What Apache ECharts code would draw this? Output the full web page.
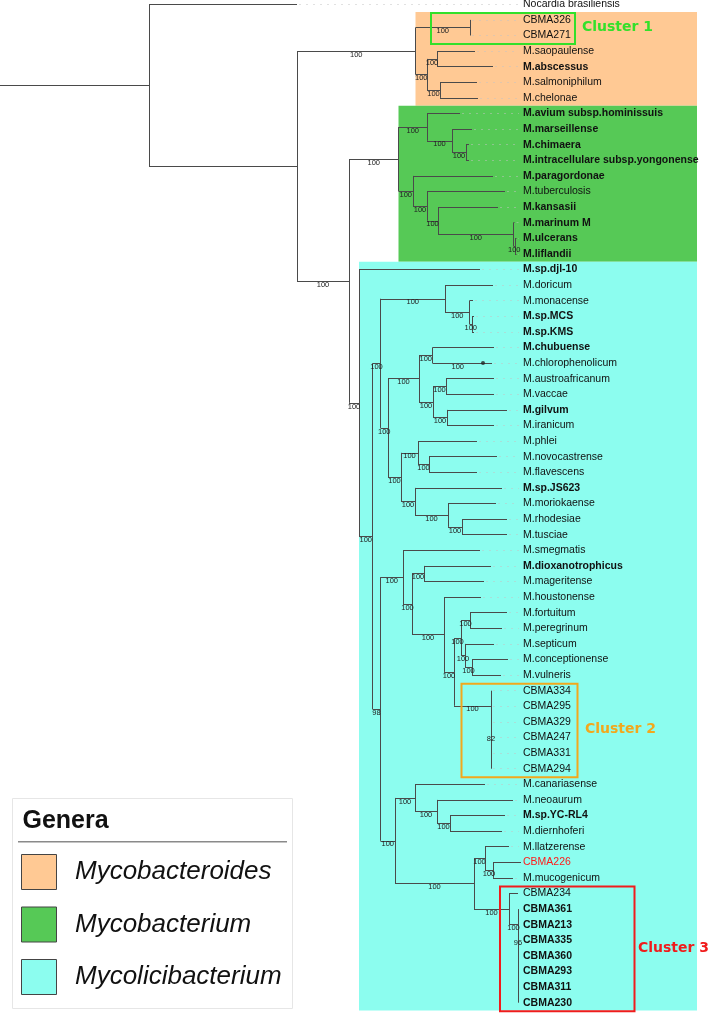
<!DOCTYPE html>
<html><head><meta charset="utf-8">
<script src="https://cdn.jsdelivr.net/npm/echarts@6/dist/echarts.min.js"></script>
<style>html,body{margin:0;padding:0;background:#fff}#c{width:708px;height:1014px}</style>
</head><body><div id="c"></div>
<script>
// ---------- DATA ----------
const leafNames = [
 'Nocardia brasiliensis','CBMA326','CBMA271','M.saopaulense','M.abscessus','M.salmoniphilum','M.chelonae',
 'M.avium subsp.hominissuis','M.marseillense','M.chimaera','M.intracellulare subsp.yongonense','M.paragordonae',
 'M.tuberculosis','M.kansasii','M.marinum M','M.ulcerans','M.liflandii',
 'M.sp.djl-10','M.doricum','M.monacense','M.sp.MCS','M.sp.KMS','M.chubuense','M.chlorophenolicum',
 'M.austroafricanum','M.vaccae','M.gilvum','M.iranicum','M.phlei','M.novocastrense','M.flavescens',
 'M.sp.JS623','M.moriokaense','M.rhodesiae','M.tusciae','M.smegmatis','M.dioxanotrophicus','M.mageritense',
 'M.houstonense','M.fortuitum','M.peregrinum','M.septicum','M.conceptionense','M.vulneris',
 'CBMA334','CBMA295','CBMA329','CBMA247','CBMA331','CBMA294',
 'M.canariasense','M.neoaurum','M.sp.YC-RL4','M.diernhoferi','M.llatzerense','CBMA226','M.mucogenicum',
 'CBMA234','CBMA361','CBMA213','CBMA335','CBMA360','CBMA293','CBMA311','CBMA230'];
// cumulative distance from root to each tip
const leafTipDepth = [297,470,470,475,493,477,478, 460,472,469,469,493, 505,498,514.5,516.5,516.5,
 480,493,473,474,474,494,492, 494,494,507,494,477,497,477, 502,496,507,507,480,491,484,
 481,507,502,494,508,501, 491,491,491,491,491,491, 485,513,505,502,509,521,513,
 518,518,518,518,518,518,518,518];
const leafParent = ['A','C1','C1','C2a','C2a','C2b','C2b', 'E1','E1a','E1b','E1b','E2', 'E2a','E2b','E2c','E2d','E2d',
 'F','J','J1','J2','J2','L1','L1x', 'L2a','L2a','L2b','L2b','M1','M1a','M1a', 'M2','M2a','M2b','M2b','N','Q','Q',
 'R','T1','T1','T2','T3','T3', 'U','U2','U3','U4','U5','U5', 'O1','O1b','O1c','O1c','Z1','Z1b','Z1b',
 'Z2','Z3','Z4','Z5','Z6','Z7','Z8','Z8'];
const nodeIds     = ['A','B','C','C1','C2','C2a','C2b','D','E','E1','E1a','E1b','E2','E2a','E2b','E2c','E2d',
 'F','G','H','J','J1','J2','K','L','L1','L1x','L2','L2a','L2b','M','M1','M1a','M2','M2a','M2b',
 'I','N','P','Q','R','S','T','T1','T2','T3','U','U2','U3','U4','U5',
 'O','O1','O1b','O1c','Z','Z1','Z1b','Z2','Z3','Z4','Z5','Z6','Z7','Z8'];
const nodeParent  = [null,'A','B','C','C','C2','C2','B','D','E','E1','E1a','E','E2','E2a','E2b','E2c',
 'D','F','G','H','J','J1','H','K','L','L1','L','L2','L2','K','M','M1','M','M2','M2a',
 'G','I','N','P','P','R','S','T','T','T2','S','U','U2','U3','U4',
 'I','O','O1','O1b','O','Z','Z1','Z','Z2','Z3','Z4','Z5','Z6','Z7'];
const nodeDepth   = [149,297,415.5,470,427,437,440,349,398.5,427,452,466,413,427,438,513.5,515,
 359,372.5,380.5,445,469.5,472,388,419,432.5,483,433,446,447,401,418,429,415,448,462,
 380.5,403,412,424,444,454,461,470,465,472,491,491,491,491,491,
 395,415,437,450,474,485,493,509,518,518,518,518,518,518];
const nodeSupport = ['','','100','100','100','100','100','100','100','100','100','100','100','100','100','100','100',
 '100','100','100','100','100','100','100','100','100','100','100','100','100','100','100','100','100','100','100',
 '98','100','100','100','100','100','100','100','100','100','100','','82','','',
 '100','100','100','100','100','100','100','100','100','96','','','',''];
const boldLeaves = ['M.abscessus','M.avium subsp.hominissuis','M.marseillense','M.chimaera','M.intracellulare subsp.yongonense',
 'M.paragordonae','M.kansasii','M.marinum M','M.ulcerans','M.liflandii','M.sp.djl-10','M.sp.MCS','M.sp.KMS',
 'M.chubuense','M.gilvum','M.sp.JS623','M.dioxanotrophicus','M.sp.YC-RL4',
 'CBMA361','CBMA213','CBMA335','CBMA360','CBMA293','CBMA311','CBMA230'];
const redLeaves = ['CBMA226'];
const genera = ['Mycobacteroides','Mycobacterium','Mycolicibacterium'];
const generaNode = ['C','E','F'];
const clusterNames = ['Cluster 1','Cluster 2','Cluster 3'];
const clusterFirst = ['CBMA326','CBMA334','CBMA234'];
const clusterLast  = ['CBMA271','CBMA294','CBMA230'];

// ---------- STYLE / LAYOUT ----------
const generaColors = ['#FFC994','#56C956','#8CFDEF'];
const clusterColors = ['#33e02a','#f2a81d','#f01c1c'];
const clusterBoxX = [[431,575],[461.5,577.5],[500,634.5]];
const clusterTextX = [582,585,638];
const LABEL_X = 523, DOT_END = 519, BG_RIGHT = 697;
const ROW = 15.6, TOP0 = 4.3;

// ---------- LAYOUT COMPUTATION ----------
const idx = {}; nodeIds.forEach((id,i)=>idx[id]=i);
const kidsL = nodeIds.map(()=>[]), kidsN = nodeIds.map(()=>[]);
leafParent.forEach((p,i)=>kidsL[idx[p]].push(i));
nodeParent.forEach((p,i)=>{ if(p) kidsN[idx[p]].push(i); });
const nLo=[], nHi=[], nY=[];
function yOf(n){
  if(nY[n]!==undefined) return nY[n];
  const ys = kidsL[n].slice().concat(kidsN[n].map(yOf));
  nLo[n]=Math.min(...ys); nHi[n]=Math.max(...ys); nY[n]=(nLo[n]+nHi[n])/2;
  return nY[n];
}
nodeIds.forEach((_,i)=>yOf(i));
const leafIndex = {}; leafNames.forEach((n,i)=>leafIndex[n]=i);

const branchData = [], dotData = [], singleDots = [];
nodeIds.forEach((id,i)=>{
  const px = nodeParent[i] ? nodeDepth[idx[nodeParent[i]]] : 0;
  if(px!==nodeDepth[i]) branchData.push({coords:[[px,nY[i]],[nodeDepth[i],nY[i]]]});
  if(nHi[i]>nLo[i]) branchData.push({coords:[[nodeDepth[i],nLo[i]],[nodeDepth[i],nHi[i]]]});
  else singleDots.push([nodeDepth[i], nY[i]]);
});
leafNames.forEach((n,i)=>{
  const px = nodeDepth[idx[leafParent[i]]];
  if(leafTipDepth[i]>px) branchData.push({coords:[[px,i],[leafTipDepth[i],i]]});
  if(leafTipDepth[i]<DOT_END-2) dotData.push({coords:[[leafTipDepth[i]+2,i],[DOT_END,i]]});
});
const bgData = genera.map((g,k)=>{
  const n = idx[generaNode[k]];
  let lo=Infinity, hi=-Infinity;
  (function walk(m){ kidsL[m].forEach(l=>{lo=Math.min(lo,l);hi=Math.max(hi,l);}); kidsN[m].forEach(walk); })(n);
  return [nodeDepth[n], lo-0.5, hi+0.5, k];
});
const supportData = [];
nodeIds.forEach((id,i)=>{
  if(!nodeSupport[i]) return;
  const px = nodeParent[i] ? nodeDepth[idx[nodeParent[i]]] : 0;
  supportData.push([(px+nodeDepth[i])/2, nY[i], i]);
});
const clusterData = clusterNames.map((c,k)=>[leafIndex[clusterFirst[k]], leafIndex[clusterLast[k]], k]);

const yMin = -TOP0/ROW, yMax = yMin + 1014/ROW;
const FONT = '"Liberation Sans", Arial, sans-serif';

const legendEls = [
  {type:'rect', shape:{x:12.5,y:798.5,width:280,height:210}, style:{fill:'#fff', stroke:'#e6e6e6', lineWidth:1}, z:100},
  {type:'text', x:22.5, y:821, z:101, style:{text:'Genera', fontSize:25, fontWeight:'bold', fontFamily:FONT,
    fill:'#111', align:'left', verticalAlign:'middle', textAlign:'left', textVerticalAlign:'middle'}},
  {type:'line', z:101, shape:{x1:18,y1:841.7,x2:287,y2:841.7}, style:{stroke:'#8a8a8a', lineWidth:1.5}}
];
genera.forEach((g,k)=>{
  legendEls.push({type:'rect', z:101, shape:{x:21.5,y:854.5+k*52.5,width:35,height:35},
    style:{fill:generaColors[k], stroke:'#444', lineWidth:1}});
  legendEls.push({type:'text', z:101, x:75, y:872+k*52.5, style:{text:g, fontSize:26, fontStyle:'italic',
    fontFamily:FONT, fill:'#111', align:'left', verticalAlign:'middle', textAlign:'left', textVerticalAlign:'middle'}});
});

const chart = echarts.init(document.getElementById('c'), null, {renderer:'canvas'});
chart.setOption({
  animation:false,
  backgroundColor:'#ffffff',
  grid:{left:0,right:0,top:0,bottom:0,containLabel:false},
  xAxis:{type:'value',min:0,max:708,show:false},
  yAxis:{type:'value',min:yMin,max:yMax,inverse:true,show:false},
  series:[
    { type:'custom', z:1, data:bgData, encode:{x:0,y:1},
      renderItem:(p,api)=>{
        const a=api.coord([api.value(0),api.value(1)]), b=api.coord([BG_RIGHT,api.value(2)]);
        return {type:'rect', shape:{x:a[0],y:a[1],width:b[0]-a[0],height:b[1]-a[1]}, style:{fill:generaColors[api.value(3)]}};
      }},
    { type:'lines', coordinateSystem:'cartesian2d', z:3, data:dotData, silent:true,
      lineStyle:{color:'#c4c4c4', width:1, type:[2,5], opacity:0.5}},
    { type:'lines', coordinateSystem:'cartesian2d', z:4, data:branchData, silent:true,
      lineStyle:{color:'#4a4a4a', width:1, opacity:1}},
    { type:'scatter', z:5, data:singleDots, symbol:'circle', symbolSize:4, itemStyle:{color:'#222'}, silent:true},
    { type:'custom', z:6, data:leafNames.map((n,i)=>[LABEL_X,i]), encode:{x:0,y:1},
      renderItem:(p,api)=>{
        const i=api.value(1), c=api.coord([api.value(0),i]), name=leafNames[i];
        return {type:'text', x:c[0], y:c[1], style:{text:name, fontSize:10.5, fontFamily:FONT,
          fontWeight: boldLeaves.includes(name)?'bold':'normal', fill: redLeaves.includes(name)?'#ff1a1a':'#111',
          align:'left', verticalAlign:'middle', textAlign:'left', textVerticalAlign:'middle'}};
      }},
    { type:'custom', z:7, data:supportData, encode:{x:0,y:1},
      renderItem:(p,api)=>{
        const c=api.coord([api.value(0),api.value(1)]);
        return {type:'text', x:c[0], y:c[1]+3.6, style:{text:nodeSupport[api.value(2)], fontSize:7.5,
          fontFamily:FONT, fill:'#222',
          align:'center', verticalAlign:'middle', textAlign:'center', textVerticalAlign:'middle'}};
      }},
    { type:'custom', z:8, data:clusterData, encode:{y:[0,1]},
      renderItem:(p,api)=>{
        const k=api.value(2), f=api.value(0), l=api.value(1);
        const a=api.coord([clusterBoxX[k][0], f-0.45]), b=api.coord([clusterBoxX[k][1], l+0.55]);
        const t=api.coord([clusterTextX[k], (f+l)/2]);
        return {type:'group', children:[
          {type:'rect', shape:{x:a[0],y:a[1],width:b[0]-a[0],height:b[1]-a[1]}, style:{fill:null, stroke:clusterColors[k], lineWidth:2}},
          {type:'text', x:t[0], y:t[1], style:{text:clusterNames[k], fontSize:14, fontWeight:'bold',
            fontFamily:'"DejaVu Sans", sans-serif', fill:clusterColors[k],
            align:'left', verticalAlign:'middle', textAlign:'left', textVerticalAlign:'middle'}}
        ]};
      }}
  ],
  graphic: legendEls
});
</script></body></html>
